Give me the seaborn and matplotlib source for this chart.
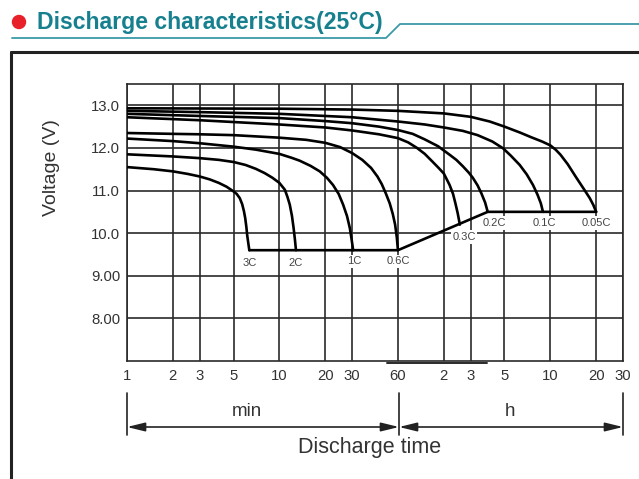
import numpy as np
import pandas as pd
import matplotlib
matplotlib.use("Agg")
import matplotlib.pyplot as plt
from matplotlib.lines import Line2D
from matplotlib.patches import Ellipse
from matplotlib.ticker import NullLocator
import seaborn as sns

# ---------------- data (discharge time in minutes, voltage in V) ----------------
rates = ["3C", "2C", "1C", "0.6C", "0.3C", "0.2C", "0.1C", "0.05C"]

t_3c = [1, 1.5, 2, 2.5, 3, 3.5, 4, 4.5, 5, 5.25, 5.5, 5.7, 5.85, 5.97, 6.07, 6.15, 6.25, 6.35]
v_3c = [11.55, 11.5, 11.45, 11.39, 11.33, 11.26, 11.18, 11.09, 10.98, 10.92, 10.82, 10.68,
        10.52, 10.35, 10.15, 9.95, 9.77, 9.6]

t_2c = [1, 2, 3, 4, 5, 6, 7, 8, 9, 10, 10.86, 11.3, 11.7, 12.1, 12.4, 12.65, 12.85]
v_2c = [11.85, 11.8, 11.76, 11.72, 11.67, 11.6, 11.51, 11.41, 11.3, 11.18, 11.02, 10.85,
        10.67, 10.4, 10.12, 9.85, 9.6]

t_1c = [1, 2, 3, 5, 7, 10, 12, 13.6, 16, 18.4, 20.5, 22.5, 24.5, 26.2, 27.8, 29, 29.8, 30.5]
v_1c = [12.22, 12.16, 12.11, 12.03, 11.96, 11.86, 11.77, 11.7, 11.58, 11.45, 11.3, 11.13,
        10.92, 10.67, 10.4, 10.12, 9.85, 9.6]

t_06c = [1, 2, 3, 5, 10, 15, 20, 25, 30, 35, 40, 44, 47, 50, 53, 55.5, 57.5, 59, 60]
v_06c = [12.35, 12.33, 12.32, 12.3, 12.24, 12.19, 12.12, 12.02, 11.88, 11.72, 11.53, 11.33,
         11.15, 10.93, 10.7, 10.45, 10.2, 9.9, 9.6]

t_03c = [1, 3, 10, 20, 30, 45, 60, 70, 80, 90, 101, 111, 120, 131, 138, 143, 148, 153]
v_03c = [12.72, 12.65, 12.55, 12.48, 12.41, 12.32, 12.23, 12.13, 12.0, 11.86, 11.68, 11.53,
         11.4, 11.13, 10.92, 10.7, 10.47, 10.2]

t_02c = [1, 3, 10, 20, 30, 45, 60, 75, 90, 110, 131, 145, 160, 175, 186, 200, 212, 224, 233]
v_02c = [12.8, 12.75, 12.7, 12.63, 12.58, 12.5, 12.42, 12.33, 12.2, 12.04, 11.84, 11.72,
         11.57, 11.42, 11.3, 11.12, 10.93, 10.72, 10.5]

t_01c = [1, 3, 10, 30, 60, 90, 120, 160, 200, 250, 294, 330, 378, 420, 462, 495, 520, 537]
v_01c = [12.87, 12.84, 12.8, 12.72, 12.62, 12.55, 12.48, 12.4, 12.3, 12.15, 11.99, 11.82,
         11.6, 11.38, 11.13, 10.9, 10.7, 10.5]

t_005c = [1, 10, 30, 60, 120, 180, 240, 300, 380, 450, 530, 600, 650, 700, 780, 890, 990,
          1090, 1150, 1200]
v_005c = [12.93, 12.92, 12.9, 12.87, 12.81, 12.73, 12.62, 12.5, 12.36, 12.25, 12.15, 12.06,
          11.96, 11.84, 11.62, 11.3, 11.05, 10.82, 10.66, 10.5]

# end-voltage line joining the curve ends
end_t = [6.35, 60, 233, 1200]
end_v = [9.6, 9.6, 10.5, 10.5]

x_ticks = [1, 2, 3, 5, 10, 20, 30, 60, 120, 180, 300, 600, 1200, 1800]
x_tick_labels = ["1", "2", "3", "5", "10", "20", "30", "60", "2", "3", "5", "10", "20", "30"]
y_ticks = [8, 9, 10, 11, 12, 13]
y_tick_labels = ["8.00", "9.00", "10.0", "11.0", "12.0", "13.0"]

# ---------------- build table ----------------
series_t = [t_3c, t_2c, t_1c, t_06c, t_03c, t_02c, t_01c, t_005c]
series_v = [v_3c, v_2c, v_1c, v_06c, v_03c, v_02c, v_01c, v_005c]
frames = []
for r, ts, vs in zip(rates, series_t, series_v):
    frames.append(pd.DataFrame({"rate": r, "t": ts, "v": vs}))
df = pd.concat(frames, ignore_index=True)
df_end = pd.DataFrame({"t": end_t, "v": end_v})

# ---------------- figure ----------------
sns.set_theme(style="white")
plt.rcParams["font.family"] = ["Liberation Sans", "DejaVu Sans"]

W, H = 639, 479
fig = plt.figure(figsize=(W / 100, H / 100), dpi=100)
fig.patch.set_facecolor("white")

def fx(x):
    return x / W

def fy(y):
    return 1 - y / H

ax = fig.add_axes([fx(127), fy(361), fx(623) - fx(127), fy(84) - fy(361)])
ax.set_xscale("log")
ax.set_xlim(1, 1800)
ax.set_ylim(7.0, 13.5)

sns.lineplot(data=df, x="t", y="v", hue="rate", units="rate", estimator=None,
             sort=False, palette=["black"] * len(rates), linewidth=1.9,
             legend=False, ax=ax, zorder=4)
sns.lineplot(data=df_end, x="t", y="v", estimator=None, sort=False,
             color="black", linewidth=1.9, ax=ax, zorder=4)
for ln in ax.lines:
    ln.set_solid_joinstyle("round")

ax.set_xticks(x_ticks)
ax.set_xticklabels(x_tick_labels)
ax.xaxis.set_minor_locator(NullLocator())
ax.set_yticks(y_ticks)
ax.set_yticklabels(y_tick_labels)
ax.tick_params(axis="both", length=0, labelsize=10.7, colors="#333333")
ax.tick_params(axis="x", pad=6)
ax.tick_params(axis="y", pad=5)
ax.set_xlabel("")
ax.set_ylabel("")
ax.grid(True, which="major", color="#2a2a2a", linewidth=1.2, zorder=1)
ax.set_axisbelow(True)
for s in ax.spines.values():
    s.set_visible(True)
    s.set_color("#2a2a2a")
    s.set_linewidth(1.2)

# curve labels under each curve end
label_offsets = {"3C": (0, -9), "2C": (0, -9), "1C": (1, -8), "0.6C": (0, -8),
                 "0.3C": (3, -9), "0.2C": (5, -8), "0.1C": (1, -8), "0.05C": (0, -8)}
for r, ts, vs in zip(rates, series_t, series_v):
    dx, dy = label_offsets[r]
    ax.annotate(r, xy=(ts[-1], vs[-1]), xytext=(dx, dy), textcoords="offset points",
                ha="center", va="center", fontsize=8, color="#444444", zorder=6,
                bbox=dict(boxstyle="square,pad=0.15", fc="white", ec="none"))

# y label
fig.text(fx(52), fy(168), "Voltage (V)", rotation=90, ha="center", va="center",
         fontsize=14, color="#333333")

# bottom time-range annotation
fig.add_artist(Line2D([fx(387), fx(487)], [fy(362.5), fy(362.5)], color="#2a2a2a", lw=1.4))
for xp in (127, 399, 623):
    fig.add_artist(Line2D([fx(xp), fx(xp)], [fy(393), fy(435)], color="#222222", lw=1.2))
arrow_kw = dict(arrowstyle="<|-|>,head_length=0.9,head_width=0.22", color="#222222",
                lw=1.2, shrinkA=0, shrinkB=0)
ax.annotate("", xy=(fx(127), fy(427)), xytext=(fx(399), fy(427)),
            xycoords="figure fraction", textcoords="figure fraction", arrowprops=arrow_kw)
ax.annotate("", xy=(fx(399), fy(427)), xytext=(fx(623), fy(427)),
            xycoords="figure fraction", textcoords="figure fraction", arrowprops=arrow_kw)
fig.text(fx(247), fy(411), "min", ha="center", va="center", fontsize=13.5, color="#333333")
fig.text(fx(510), fy(411), "h", ha="center", va="center", fontsize=13.5, color="#333333")
fig.text(fx(370), fy(448), "Discharge time", ha="center", va="center", fontsize=15.5,
         color="#333333")

# outer box
fig.add_artist(Line2D([fx(11), fx(11)], [fy(52), fy(480)], color="#222222", lw=2.2))
fig.add_artist(Line2D([fx(11), fx(640)], [fy(52), fy(52)], color="#222222", lw=2.2))

# header
teal = "#17808e"
fig.add_artist(Ellipse((fx(19), fy(22)), width=13 / W, height=13 / H,
                       transform=fig.transFigure, color="#e8202a"))
fig.text(fx(37), fy(23), "Discharge characteristics(25\u00b0C)", ha="left", va="center",
         fontsize=16.6, fontweight="bold", color=teal,
         family=["Liberation Sans Narrow", "Liberation Sans", "DejaVu Sans"])
fig.add_artist(Line2D([fx(12), fx(386), fx(400), fx(640)],
                      [fy(38), fy(38), fy(24), fy(24)], color="#3a9aa8", lw=1.3))

fig.savefig("out.png", dpi=100, facecolor="white")
